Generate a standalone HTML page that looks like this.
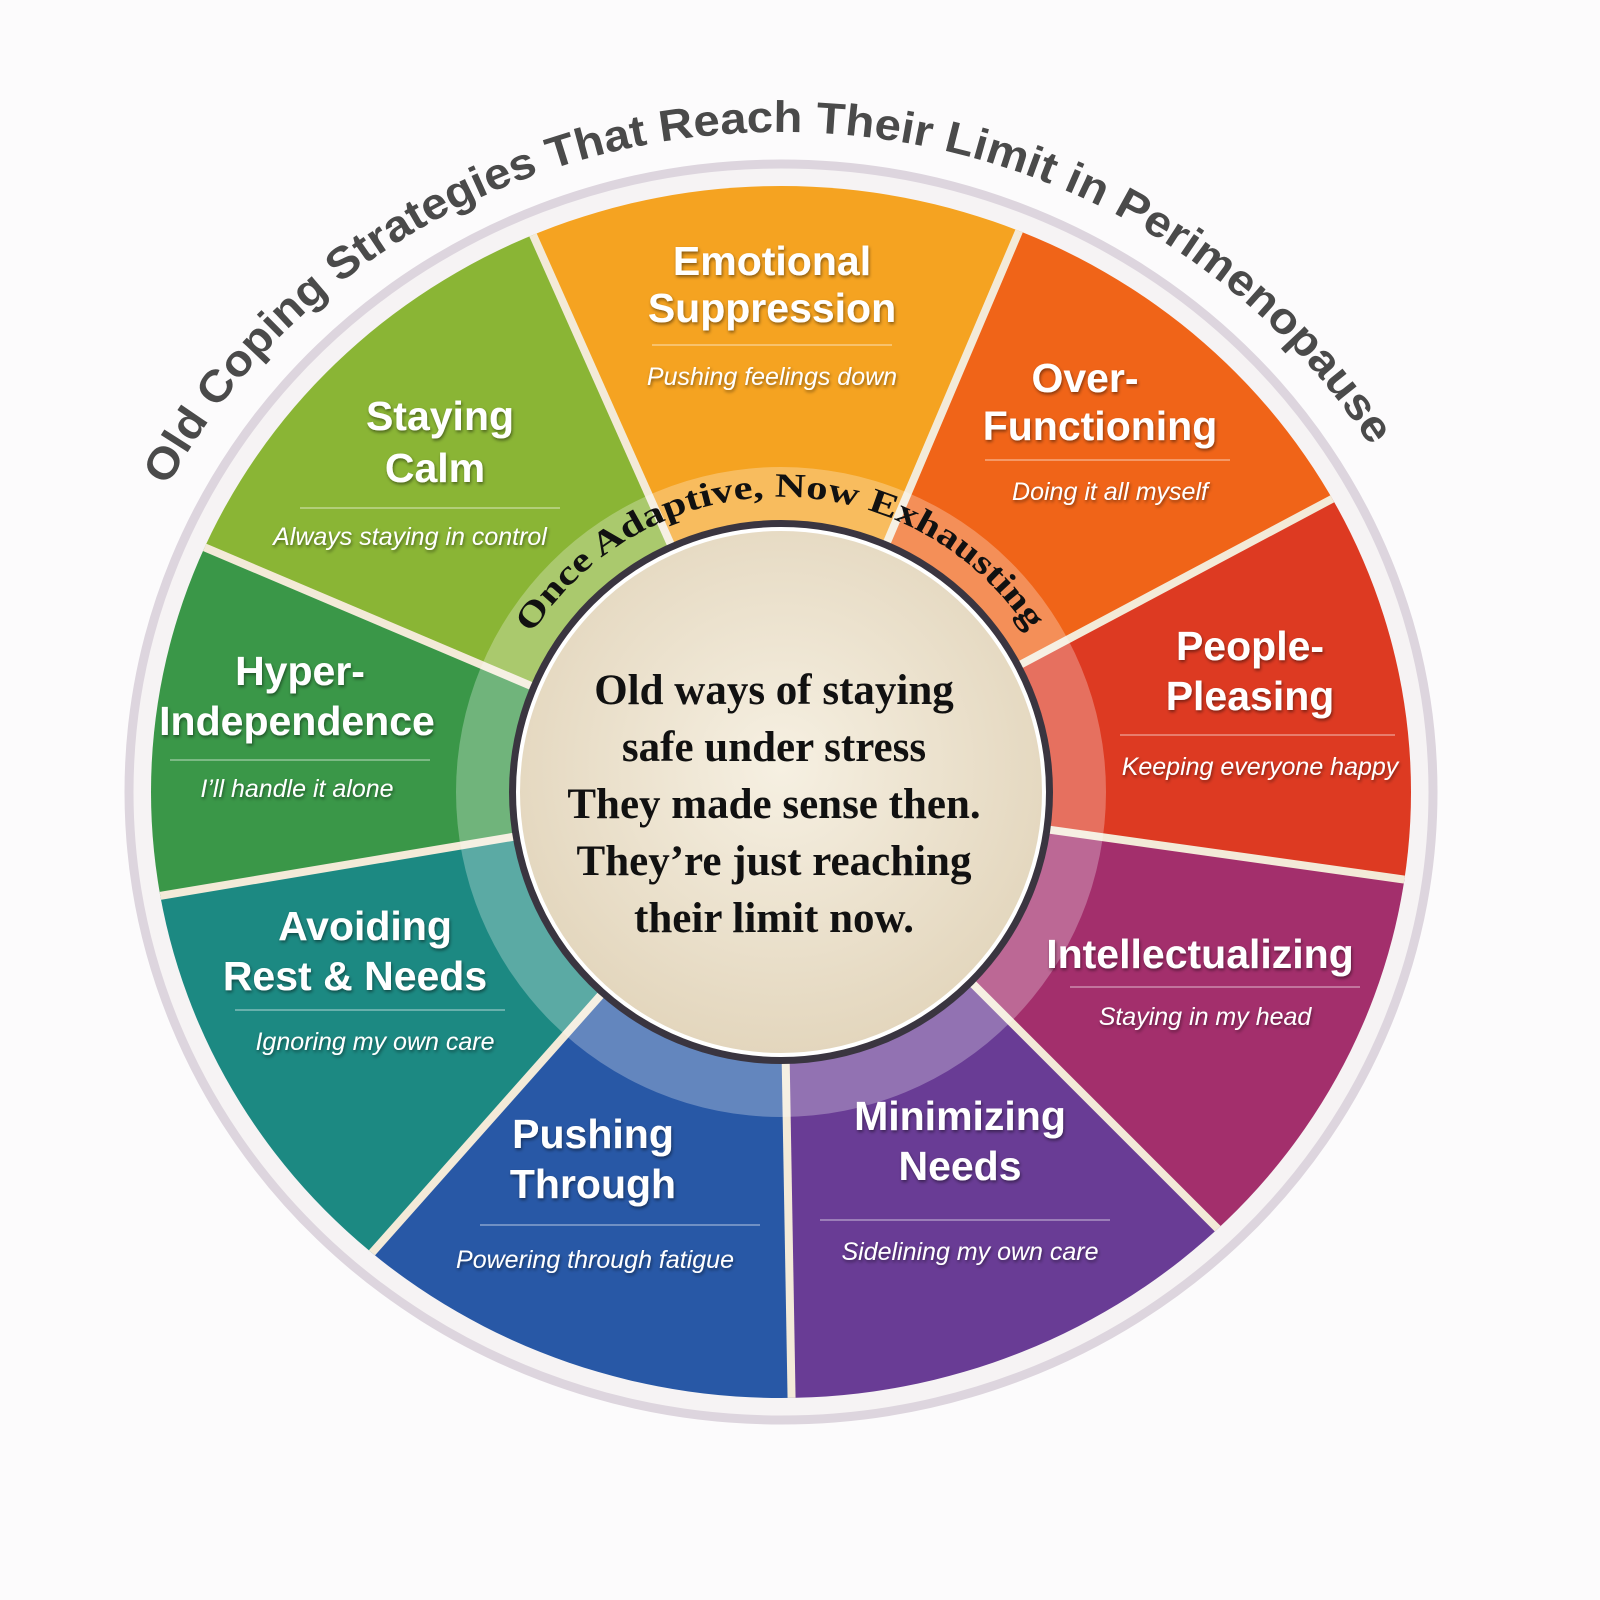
<!DOCTYPE html>
<html><head><meta charset="utf-8"><style>
html,body{margin:0;padding:0;background:#fcfbfc;}
svg{display:block}
.t{font-family:"Liberation Sans",sans-serif;font-weight:bold;fill:#fff;font-size:41px;text-anchor:middle;}
.s{font-family:"Liberation Sans",sans-serif;font-style:italic;fill:#fff;font-size:25px;text-anchor:middle;}
.c{font-family:"Liberation Serif",serif;font-weight:bold;fill:#111;font-size:43px;text-anchor:middle;}
</style></head><body>
<svg width="1600" height="1600" viewBox="0 0 1600 1600" xmlns="http://www.w3.org/2000/svg">
<defs>
<clipPath id="cl"><ellipse cx="765" cy="778" rx="630" ry="606"/></clipPath>
<radialGradient id="cg" cx="50%" cy="45%" r="55%"><stop offset="0" stop-color="#f6f0e2"/><stop offset="1" stop-color="#e3d6bd"/></radialGradient>
<filter id="sh"><feDropShadow dx="1" dy="2" stdDeviation="1.5" flood-color="#000" flood-opacity="0.45"/></filter>
<path id="tp" d="M 765 778 m -692 0 a 692 660 0 1 1 1384 0"/>
<path id="ip" d="M 765 778 m -295 0 a 295 295 0 1 1 590 0"/>
</defs>
<g transform="translate(16,14)">
<ellipse cx="765" cy="778" rx="652" ry="628" fill="#f6f3f4" stroke="#ddd5de" stroke-width="9"/>
<g clip-path="url(#cl)">
<polygon points="765,778 480.3,138.5 1038.5,133.6" fill="#f5a321"/>
<polygon points="765,778 1038.5,133.6 1383,449.3" fill="#f06418"/>
<polygon points="765,778 1383,449.3 1458.2,875.4" fill="#dd3a22"/>
<polygon points="765,778 1458.2,875.4 1260,1273" fill="#a32f6c"/>
<polygon points="765,778 1260,1273 777.2,1477.9" fill="#693c95"/>
<polygon points="765,778 777.2,1477.9 300.3,1301.5" fill="#2858a6"/>
<polygon points="765,778 300.3,1301.5 74.6,893.5" fill="#1c8982"/>
<polygon points="765,778 74.6,893.5 120.6,504.5" fill="#3a9748"/>
<polygon points="765,778 120.6,504.5 480.3,138.5" fill="#8ab535"/>
<g stroke="#f3ead8" stroke-width="8">
<line x1="765" y1="778" x2="480.3" y2="138.5"/><line x1="765" y1="778" x2="1038.5" y2="133.6"/>
<line x1="765" y1="778" x2="1383" y2="449.3"/><line x1="765" y1="778" x2="1458.2" y2="875.4"/>
<line x1="765" y1="778" x2="1260" y2="1273"/><line x1="765" y1="778" x2="777.2" y2="1477.9"/>
<line x1="765" y1="778" x2="300.3" y2="1301.5"/><line x1="765" y1="778" x2="74.6" y2="893.5"/>
<line x1="765" y1="778" x2="120.6" y2="504.5"/>
</g>
</g>
<circle cx="765" cy="778" r="325" fill="#fff" opacity="0.28"/>
<circle cx="765" cy="778" r="272" fill="#3a3540"/>
<circle cx="765" cy="778" r="263" fill="url(#cg)" stroke="#fff" stroke-width="4"/>
<text font-family="Liberation Sans,sans-serif" font-size="44" fill="#4a4a4a" font-weight="bold"><textPath href="#tp" startOffset="15%" textLength="1440" lengthAdjust="spacingAndGlyphs">Old Coping Strategies That Reach Their Limit in Perimenopause</textPath></text>
<text font-family="Liberation Serif,serif" font-size="34" fill="#111" font-weight="bold"><textPath href="#ip" startOffset="18%" textLength="590" lengthAdjust="spacingAndGlyphs">Once Adaptive, Now Exhausting</textPath></text>
<text class="c" x="758" y="690">Old ways of staying</text>
<text class="c" x="758" y="747">safe under stress</text>
<text class="c" x="758" y="804">They made sense then.</text>
<text class="c" x="758" y="861">They’re just reaching</text>
<text class="c" x="758" y="918">their limit now.</text>
</g>
<g filter="url(#sh)">
<text class="t" x="772" y="275">Emotional</text><text class="t" x="772" y="322">Suppression</text>
<text class="s" x="772" y="385">Pushing feelings down</text>
<text class="t" x="1085" y="392">Over-</text><text class="t" x="1100" y="440">Functioning</text>
<text class="s" x="1110" y="500">Doing it all myself</text>
<text class="t" x="1250" y="660">People-</text><text class="t" x="1250" y="710">Pleasing</text>
<text class="s" x="1260" y="775">Keeping everyone happy</text>
<text class="t" x="1200" y="968">Intellectualizing</text>
<text class="s" x="1205" y="1025">Staying in my head</text>
<text class="t" x="960" y="1130">Minimizing</text><text class="t" x="960" y="1180">Needs</text>
<text class="s" x="970" y="1260">Sidelining my own care</text>
<text class="t" x="593" y="1148">Pushing</text><text class="t" x="593" y="1198">Through</text>
<text class="s" x="595" y="1268">Powering through fatigue</text>
<text class="t" x="365" y="940">Avoiding</text><text class="t" x="355" y="990">Rest &amp; Needs</text>
<text class="s" x="375" y="1050">Ignoring my own care</text>
<text class="t" x="300" y="685">Hyper-</text><text class="t" x="297" y="735">Independence</text>
<text class="s" x="297" y="797">I’ll handle it alone</text>
<text class="t" x="440" y="430">Staying</text><text class="t" x="435" y="482">Calm</text>
<text class="s" x="410" y="545">Always staying in control</text>
</g>
<g stroke="#fff" stroke-opacity="0.45" stroke-width="1.5">
<line x1="652" y1="345" x2="892" y2="345"/><line x1="985" y1="460" x2="1230" y2="460"/>
<line x1="1120" y1="735" x2="1395" y2="735"/><line x1="1070" y1="987" x2="1360" y2="987"/>
<line x1="820" y1="1220" x2="1110" y2="1220"/><line x1="480" y1="1225" x2="760" y2="1225"/>
<line x1="235" y1="1010" x2="505" y2="1010"/><line x1="170" y1="760" x2="430" y2="760"/>
<line x1="300" y1="508" x2="560" y2="508"/>
</g>
</svg>
</body></html>
